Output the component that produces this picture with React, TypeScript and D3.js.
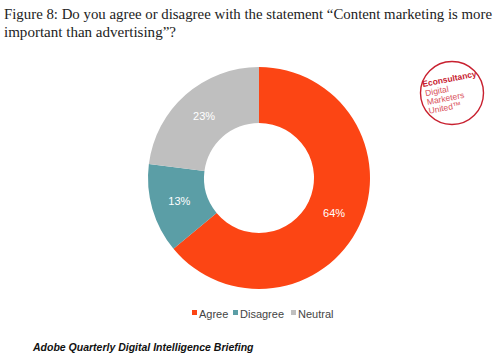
import React from "react";
import * as d3 from "d3";

const categories = ["Agree", "Disagree", "Neutral"];
const values = [64, 13, 23];
const colors = ["#FC4514", "#5B9EA6", "#BFBFBF"];
const titleLines = [
  "Figure 8: Do you agree or disagree with the statement \u201cContent marketing is more",
  "important than advertising\u201d?",
];
const footer = "Adobe Quarterly Digital Intelligence Briefing";

export default function App() {
  const W = 504, H = 356;
  const cx = 259, cy = 178, rOuter = 111, rInner = 55;
  const pie = d3.pie<number>().sort(null).value((d) => d);
  const arcs = pie(values);
  const arc = d3.arc<d3.PieArcDatum<number>>().innerRadius(rInner).outerRadius(rOuter);
  const labelArc = d3.arc<d3.PieArcDatum<number>>().innerRadius(83).outerRadius(83);

  const legendX = [192, 233, 291];
  const titleLens = [488, 172];
  return (
    <svg width={W} height={H} style={{ position: "absolute", left: 0, top: 0, background: "#fff" }}>
      <rect width={W} height={H} fill="#fff" />
      {titleLines.map((t, i) => (
        <text key={i} x={4} y={19 + i * 18} fontFamily="'Liberation Serif', serif" fontSize={15.2} fill="#222"
          textLength={titleLens[i]} lengthAdjust="spacingAndGlyphs">
          {t}
        </text>
      ))}
      <g transform={`translate(${cx},${cy})`}>
        {arcs.map((a, i) => (
          <path key={i} d={arc(a) || ""} fill={colors[i]} />
        ))}
        {arcs.map((a, i) => {
          const [x, y] = labelArc.centroid(a);
          return (
            <text key={"l" + i} x={x} y={y} dy="0.35em" textAnchor="middle" fontFamily="'Liberation Sans', Arial, sans-serif" fontSize={11} fill="#fff">
              {values[i]}%
            </text>
          );
        })}
      </g>
      {categories.map((c, i) => (
        <g key={c}>
          <rect x={legendX[i]} y={310} width={5} height={5} fill={colors[i]} />
          <text x={legendX[i] + 7} y={314} dy="0.35em" fontFamily="'Liberation Sans', Arial, sans-serif" fontSize={11} fill="#444">
            {c}
          </text>
        </g>
      ))}
      <g>
        <circle cx={452} cy={93} r={31.5} fill="none" stroke="#C8202F" strokeWidth={1.4} />
        <g transform="translate(423,87) rotate(-11)" fontFamily="'Liberation Sans', Arial, sans-serif">
          <text x={0} y={0} fontSize={8.5} fontWeight="bold" fill="#C8202F" textLength={55} lengthAdjust="spacingAndGlyphs">Econsultancy</text>
          <text x={1} y={9.5} fontSize={8.5} fill="#D9505A">Digital</text>
          <text x={1} y={18.5} fontSize={8.5} fill="#D9505A">Marketers</text>
          <text x={1} y={27.5} fontSize={8.5} fill="#D9505A">United™</text>
        </g>
      </g>
      <text x={33} y={351} fontFamily="'Liberation Sans', Arial, sans-serif" fontSize={10.5} fontWeight="bold" fontStyle="italic" fill="#111">
        {footer}
      </text>
    </svg>
  );
}
